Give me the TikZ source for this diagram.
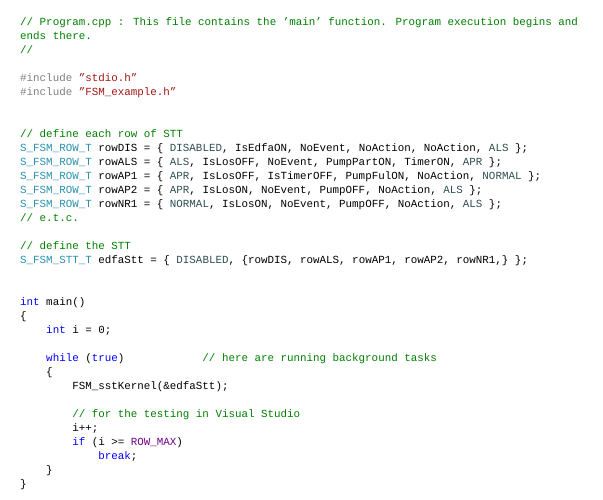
\documentclass[tikz,border=0pt]{standalone}
\usepackage{fontspec}
\setmainfont{Liberation Mono}
\definecolor{cmt}{RGB}{0,128,0}
\definecolor{kwd}{RGB}{0,0,255}
\definecolor{typ}{RGB}{43,145,175}
\definecolor{strc}{RGB}{163,21,21}
\definecolor{enm}{RGB}{47,79,79}
\definecolor{mac}{RGB}{111,0,138}
\definecolor{prep}{RGB}{128,128,128}
\newcommand{\cm}[1]{\textcolor{cmt}{#1}}
\newcommand{\kw}[1]{\textcolor{kwd}{#1}}
\newcommand{\ty}[1]{\textcolor{typ}{#1}}
\newcommand{\sr}[1]{\textcolor{strc}{#1}}
\newcommand{\en}[1]{\textcolor{enm}{#1}}
\newcommand{\mc}[1]{\textcolor{mac}{#1}}
\newcommand{\pp}[1]{\textcolor{prep}{#1}}
\newcommand{\codeln}[3]{\node[codeline] (l#1) at ({20+6.51*#2},{500-26-14*(#1-1)}) {#3};}
\begin{document}
\begin{tikzpicture}[x=1pt,y=1pt,
  codeline/.style={anchor=base west,inner sep=0pt,font=\fontsize{10.85}{14}\selectfont,text=black}]
\fill[white] (0,0) rectangle (603,500);
\useasboundingbox (0,0) rectangle (603,500);
\codeln{1}{0}{\cm{// Program.cpp : This file contains the 'main' function. Program execution begins and}}
\codeln{2}{0}{\cm{ends there.}}
\codeln{3}{0}{\cm{//}}
\codeln{5}{0}{\pp{\#include} \sr{"stdio.h"}}
\codeln{6}{0}{\pp{\#include} \sr{"FSM\_example.h"}}
\codeln{9}{0}{\cm{// define each row of STT}}
\codeln{10}{0}{\ty{S\_FSM\_ROW\_T} rowDIS = \{ \en{DISABLED}, IsEdfaON, NoEvent, NoAction, NoAction, \en{ALS} \};}
\codeln{11}{0}{\ty{S\_FSM\_ROW\_T} rowALS = \{ \en{ALS}, IsLosOFF, NoEvent, PumpPartON, TimerON, \en{APR} \};}
\codeln{12}{0}{\ty{S\_FSM\_ROW\_T} rowAP1 = \{ \en{APR}, IsLosOFF, IsTimerOFF, PumpFulON, NoAction, \en{NORMAL} \};}
\codeln{13}{0}{\ty{S\_FSM\_ROW\_T} rowAP2 = \{ \en{APR}, IsLosON, NoEvent, PumpOFF, NoAction, \en{ALS} \};}
\codeln{14}{0}{\ty{S\_FSM\_ROW\_T} rowNR1 = \{ \en{NORMAL}, IsLosON, NoEvent, PumpOFF, NoAction, \en{ALS} \};}
\codeln{15}{0}{\cm{// e.t.c.}}
\codeln{17}{0}{\cm{// define the STT}}
\codeln{18}{0}{\ty{S\_FSM\_STT\_T} edfaStt = \{ \en{DISABLED}, \{rowDIS, rowALS, rowAP1, rowAP2, rowNR1,\} \};}
\codeln{21}{0}{\kw{int} main()}
\codeln{22}{0}{\{}
\codeln{23}{4}{\kw{int} i = 0;}
\codeln{25}{4}{\kw{while} (\kw{true})}
\node[codeline] (l25c) at ({20+6.51*28},{500-26-14*24}) {\cm{// here are running background tasks}};
\codeln{26}{4}{\{}
\codeln{27}{8}{FSM\_sstKernel(\&edfaStt);}
\codeln{29}{8}{\cm{// for the testing in Visual Studio}}
\codeln{30}{8}{i++;}
\codeln{31}{8}{\kw{if} (i >= \mc{ROW\_MAX})}
\codeln{32}{12}{\kw{break};}
\codeln{33}{4}{\}}
\codeln{34}{0}{\}}
\end{tikzpicture}
\end{document}
